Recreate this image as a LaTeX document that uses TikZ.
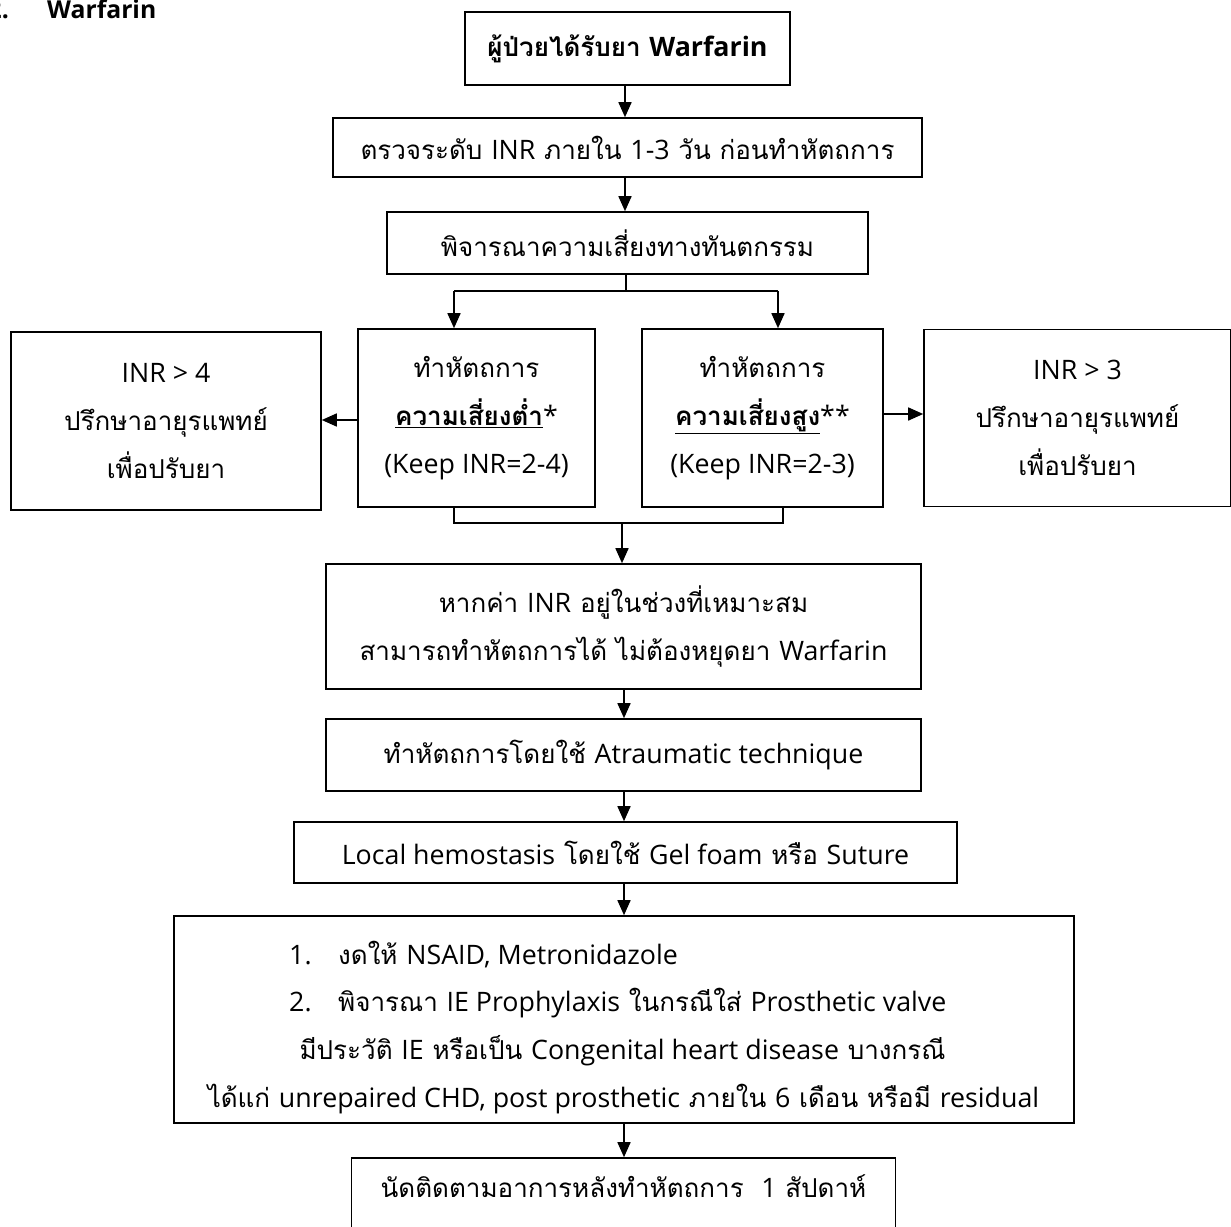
\documentclass[tikz,border=0pt]{standalone}
\usepackage{fontspec}
\setmainfont[Script=Thai]{Loma}
\newfontfamily\latinfont[Scale=1.03]{Open Sans}
\newcommand{\en}[1]{{\latinfont #1}}
\usetikzlibrary{arrows.meta}
\begin{document}
\begin{tikzpicture}[x=1pt,y=-1pt,
  box/.style={draw, line width=1.6pt, inner sep=0pt, align=center,
    font=\fontsize{26}{48}\selectfont},
  txt/.style={inner sep=0pt, font=\fontsize{26}{48}\selectfont},
  conn/.style={line width=1.6pt},
  arr/.style={line width=1.6pt, -{Triangle[length=15pt,width=13pt]}}]
\useasboundingbox (0,0) rectangle (1231,1226);
\begin{scope}
\clip (0,0) rectangle (1231,1226);
% title
\node[txt, anchor=base east, font=\fontsize{24}{48}\selectfont\bfseries] (tnum) at (9,18) {\en{2.}};
\node[txt, anchor=base west, font=\fontsize{24}{48}\selectfont\bfseries] (ttl) at (47,18) {\en{Warfarin}};
% boxes
\node[box, line width=2.4pt, minimum width=325, minimum height=73, font=\fontsize{26}{48}\selectfont\bfseries] (b1) at (627.5,48.5) {ผู้ป่วยได้รับยา \en{Warfarin}};
\node[box, minimum width=589, minimum height=59] (b2) at (627.5,147.5) {ตรวจระดับ \en{INR} ภายใน \en{1-3} วัน ก่อนทำหัตถการ};
\node[box, minimum width=481, minimum height=62] (b3) at (627.5,243) {พิจารณาความเสี่ยงทางทันตกรรม};
\node[box, minimum width=310, minimum height=178] (bl) at (166,421) {\en{INR > 4}\\ปรึกษาอายุรแพทย์\\เพื่อปรับยา};
\node[box, minimum width=237, minimum height=178] (blow) at (476.5,418) {ทำหัตถการ\\\underline{\textbf{ความเสี่ยงต่ำ}}\en{*}\\\en{(Keep INR=2-4)}};
\node[box, minimum width=241, minimum height=178] (bhigh) at (762.5,418) {ทำหัตถการ\\\underline{\textbf{ความเสี่ยงสูง}}\en{**}\\\en{(Keep INR=2-3)}};
\node[box, minimum width=307, minimum height=177] (br) at (1077.5,418) {\en{INR > 3}\\ปรึกษาอายุรแพทย์\\เพื่อปรับยา};
\node[box, minimum width=595, minimum height=125] (b4) at (623.5,626.5) {หากค่า \en{INR} อยู่ในช่วงที่เหมาะสม\\สามารถทำหัตถการได้ ไม่ต้องหยุดยา \en{Warfarin}};
\node[box, minimum width=595, minimum height=72] (b5) at (623.5,755) {ทำหัตถการโดยใช้ \en{Atraumatic technique}};
\node[box, minimum width=663, minimum height=61] (b6) at (625.5,852.5) {\en{Local hemostasis} โดยใช้ \en{Gel foam} หรือ \en{Suture}};
\node[box, minimum width=900, minimum height=207] (b7) at (624,1019.5) {};
\node[txt, anchor=west] (l1) at (289,955) {\makebox[49pt][l]{\en{1.}}งดให้ \en{NSAID, Metronidazole}};
\node[txt, anchor=west] (l2) at (289,1003) {\makebox[49pt][l]{\en{2.}}พิจารณา \en{IE Prophylaxis} ในกรณีใส่ \en{Prosthetic valve}};
\node[txt] (l3) at (622.5,1051) {มีประวัติ \en{IE} หรือเป็น \en{Congenital heart disease} บางกรณี};
\node[txt] (l4) at (623.5,1099) {ได้แก่ \en{unrepaired CHD, post prosthetic} ภายใน \en{6} เดือน หรือมี \en{residual}};
\node[box, minimum width=544, minimum height=110] (b8) at (623.5,1213) {};
\node[txt] (l8) at (623.5,1186) {นัดติดตามอาการหลังทำหัตถการ\ \ \en{1} สัปดาห์};
% connectors
\coordinate (sp) at (626,291);
\coordinate (spl) at (454,291);
\coordinate (spr) at (778,291);
\coordinate (jl) at (454,523);
\coordinate (jr) at (783,523);
\coordinate (jm) at (622,523);
\draw[arr] (b1.south -| 625,0) -- (b2.north -| 625,0);
\draw[arr] (b2.south -| 625,0) -- (b3.north -| 625,0);
\draw[conn] (b3.south -| sp) -- (sp);
\draw[conn] (spl) -- (spr);
\draw[arr] (spl) -- (blow.north -| spl);
\draw[arr] (spr) -- (bhigh.north -| spr);
\draw[arr] (blow.west |- 0,420) -- (bl.east |- 0,420);
\draw[arr] (bhigh.east |- 0,414) -- (br.west |- 0,414);
\draw[conn] (blow.south -| jl) -- (jl) -- (jr) -- (bhigh.south -| jr);
\draw[arr] (jm) -- (b4.north -| jm);
\draw[arr] (b4.south -| 624,0) -- (b5.north -| 624,0);
\draw[arr] (b5.south -| 624,0) -- (b6.north -| 624,0);
\draw[arr] (b6.south -| 624,0) -- (b7.north -| 624,0);
\draw[arr] (b7.south -| 624,0) -- (b8.north -| 624,0);
\end{scope}
\end{tikzpicture}
\end{document}
